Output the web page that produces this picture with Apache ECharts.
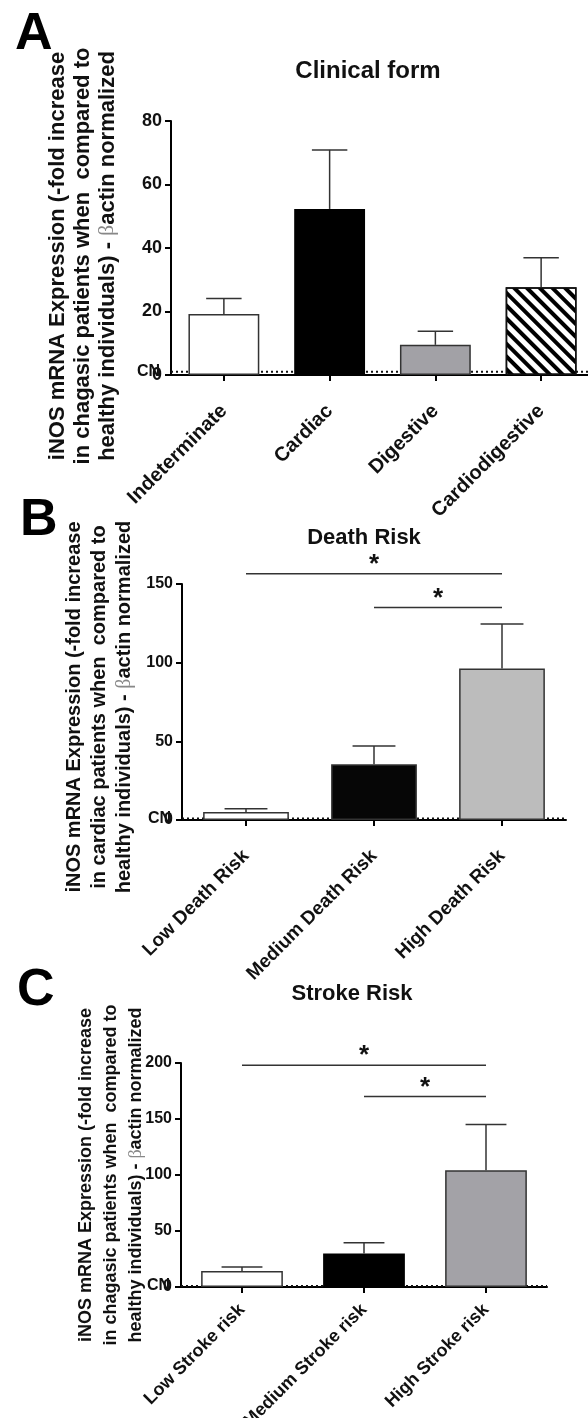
<!DOCTYPE html>
<html>
<head>
<meta charset="utf-8">
<script src="https://cdn.jsdelivr.net/npm/echarts@6/dist/echarts.min.js"></script>
<style>
  html, body { margin: 0; padding: 0; background: #fff; }
  #main { width: 588px; height: 1418px; }
</style>
</head>
<body>
<div id="main"></div>
<script>
// 数据
var clinicalCats = ['Indeterminate', 'Cardiac', 'Digestive', 'Cardiodigestive'];
var clinicalMean = [19.2, 52.3, 9.5, 27.6];
var clinicalSem = [4.9, 18.6, 4.3, 9.3];

var deathCats = ['Low Death Risk', 'Medium Death Risk', 'High Death Risk'];
var deathMean = [5.1, 35.4, 96.3];
var deathSem = [2.1, 11.7, 28.2];
// [from, to, y] 显著性横线
var deathSig = [[0, 2, 156.5], [1, 2, 135]];

var strokeCats = ['Low Stroke risk', 'Medium Stroke risk', 'High Stroke risk'];
var strokeMean = [14.2, 30, 104.3];
var strokeSem = [3.6, 9.6, 40.9];
var strokeSig = [[0, 2, 198], [1, 2, 170]];

var yTicksA = [0, 80, 20];   // min, max, interval
var yTicksB = [0, 150, 50];
var yTicksC = [0, 200, 50];
var cnLevel = 1;

var font = "'Liberation Sans', Arial, sans-serif";

(function() {
  var myChart = echarts.init(document.getElementById('main'));

  // CN 虚线 (在柱子下面)
  function cnRender(params, api) {
    var cs = params.coordSys;
    var y = api.coord([0, api.value(1)])[1];
    return {
      type: 'group',
      children: [
        { type: 'line', shape: { x1: cs.x, y1: y, x2: cs.x + cs.width, y2: y }, style: { stroke: '#111', lineWidth: 2, lineDash: [2, 3] } },
        { type: 'text', style: { x: cs.x - 11, y: y, text: 'CN', fill: '#111', font: 'bold 16px ' + font, textAlign: 'right', textVerticalAlign: 'middle' } }
      ]
    };
  }

  // 误差线
  function errorRender(params, api) {
    var p1 = api.coord([api.value(0), api.value(1)]);
    var p2 = api.coord([api.value(0), api.value(2)]);
    var half = api.size([1, 0])[0] * 0.67 * 0.25;
    var st = { stroke: '#333', lineWidth: 1.5 };
    return {
      type: 'group',
      children: [
        { type: 'line', shape: { x1: p1[0], y1: p1[1], x2: p2[0], y2: p2[1] }, style: st },
        { type: 'line', shape: { x1: p2[0] - half, y1: p2[1], x2: p2[0] + half, y2: p2[1] }, style: st }
      ]
    };
  }

  // 显著性标记
  function sigRender(params, api) {
    var p1 = api.coord([api.value(0), api.value(2)]);
    var p2 = api.coord([api.value(1), api.value(2)]);
    return {
      type: 'group',
      children: [
        { type: 'line', shape: { x1: p1[0], y1: p1[1], x2: p2[0], y2: p2[1] }, style: { stroke: '#333', lineWidth: 1.5 } },
        { type: 'text', style: { x: (p1[0] + p2[0]) / 2, y: p1[1] + 4, text: '*', fill: '#111', font: 'bold 26px ' + font, textAlign: 'center', textVerticalAlign: 'bottom' } }
      ]
    };
  }

  function yName(mid) {
    return 'iNOS mRNA Expression (-fold increase\n' + mid + '\nhealthy individuals) - {b|β}actin normalized';
  }

  function makeY(idx, ticks, mid, gap, nameSize, shift, labelSize) {
    return {
      type: 'value',
      gridIndex: idx,
      min: ticks[0], max: ticks[1], interval: ticks[2],
      name: yName(mid),
      nameLocation: 'middle',
      nameRotate: 90,
      nameGap: gap,
      nameMoveOverlap: false,
      nameTextStyle: {
        fontFamily: font, fontSize: nameSize, fontWeight: 'bold', color: '#111', lineHeight: 25, align: 'center',
        padding: [0, shift, 0, 0],
        rich: { b: { fontFamily: "'Liberation Serif', serif", fontWeight: 'normal', fontSize: nameSize, color: '#888', lineHeight: 25 } }
      },
      axisLine: { show: true, lineStyle: { color: '#000', width: 2 } },
      axisTick: { show: true, length: 6, lineStyle: { color: '#000', width: 2 } },
      axisLabel: { fontFamily: font, fontSize: labelSize, fontWeight: 'bold', color: '#111', margin: 9 },
      splitLine: { show: false }
    };
  }

  function makeX(idx, cats, size, margin) {
    return {
      type: 'category',
      gridIndex: idx,
      data: cats,
      axisLine: { show: true, lineStyle: { color: '#000', width: 2 } },
      axisTick: { show: true, alignWithLabel: true, length: 6, lineStyle: { color: '#000', width: 2 } },
      axisLabel: { interval: 0, rotate: 45, fontFamily: font, fontSize: size, fontWeight: 'bold', color: '#111', margin: margin }
    };
  }

  // 一组面板的系列
  function panelSeries(idx, mean, sem, colors, sig) {
    var list = [];
    list.push({
      type: 'custom', xAxisIndex: idx, yAxisIndex: idx, z: 1, silent: true, clip: false,
      renderItem: cnRender,
      encode: { x: 0, y: 1 },
      data: [[0, cnLevel]]
    });
    list.push({
      type: 'bar', xAxisIndex: idx, yAxisIndex: idx, z: 2, barWidth: '67%',
      data: mean.map(function(v, i) {
        var c = colors[i];
        if (c === 'hatch') {
          return {
            value: v,
            itemStyle: {
              color: '#fff', borderColor: '#111', borderWidth: 1.5,
              decal: { symbol: 'rect', symbolSize: 1, dashArrayX: [1, 0], dashArrayY: [4, 5], rotation: Math.PI / 4, color: '#000' }
            }
          };
        }
        return { value: v, itemStyle: { color: c, borderColor: c === '#000000' ? '#000' : '#333', borderWidth: 1.5 } };
      })
    });
    list.push({
      type: 'custom', xAxisIndex: idx, yAxisIndex: idx, z: 3, clip: false,
      renderItem: errorRender,
      encode: { x: 0, y: [1, 2] },
      data: mean.map(function(v, i) { return [i, v, v + sem[i]]; })
    });
    if (sig) {
      list.push({
        type: 'custom', xAxisIndex: idx, yAxisIndex: idx, z: 3, clip: false,
        renderItem: sigRender,
        encode: { x: [0, 1], y: 2 },
        data: sig
      });
    }
    return list;
  }

  var titleStyle = { fontFamily: font, fontSize: 22, fontWeight: 'bold', color: '#111' };
  var letterStyle = { fontFamily: font, fontSize: 52, fontWeight: 'bold', color: '#000' };

  var option = {
    backgroundColor: '#fff',
    animation: false,
    title: [
      { text: 'A', left: 10, top: 4, textStyle: letterStyle },
      { text: 'B', left: 15, top: 490, textStyle: letterStyle },
      { text: 'C', left: 12, top: 960, textStyle: letterStyle },
      { text: 'Clinical form', left: 363, top: 54, textAlign: 'center', textStyle: { fontFamily: font, fontSize: 24, fontWeight: 'bold', color: '#111' } },
      { text: 'Death Risk', left: 359, top: 522, textAlign: 'center', textStyle: titleStyle },
      { text: 'Stroke Risk', left: 347, top: 978, textAlign: 'center', textStyle: titleStyle }
    ],
    grid: [
      { left: 171, top: 121, width: 423, height: 254, outerBoundsMode: 'none' },
      { left: 182, top: 584, width: 384, height: 236, outerBoundsMode: 'none' },
      { left: 181, top: 1063, width: 366, height: 224, outerBoundsMode: 'none' }
    ],
    xAxis: [
      makeX(0, clinicalCats, 20, 33),
      makeX(1, deathCats, 19, 33),
      makeX(2, strokeCats, 18, 20)
    ],
    yAxis: [
      makeY(0, yTicksA, 'in chagasic patients when  compared to', 51, 22, 16, 18),
      makeY(1, yTicksB, 'in cardiac patients when  compared to', 45, 20, 10, 16),
      makeY(2, yTicksC, 'in chagasic patients when  compared to', 32, 18, 0, 16)
    ],
    series: []
      .concat(panelSeries(0, clinicalMean, clinicalSem, ['#ffffff', '#000000', '#a2a1a6', 'hatch'], null))
      .concat(panelSeries(1, deathMean, deathSem, ['#ffffff', '#060606', '#bcbcbc'], deathSig))
      .concat(panelSeries(2, strokeMean, strokeSem, ['#ffffff', '#000000', '#a3a2a7'], strokeSig))
  };

  myChart.setOption(option);
})();
</script>
</body>
</html>
